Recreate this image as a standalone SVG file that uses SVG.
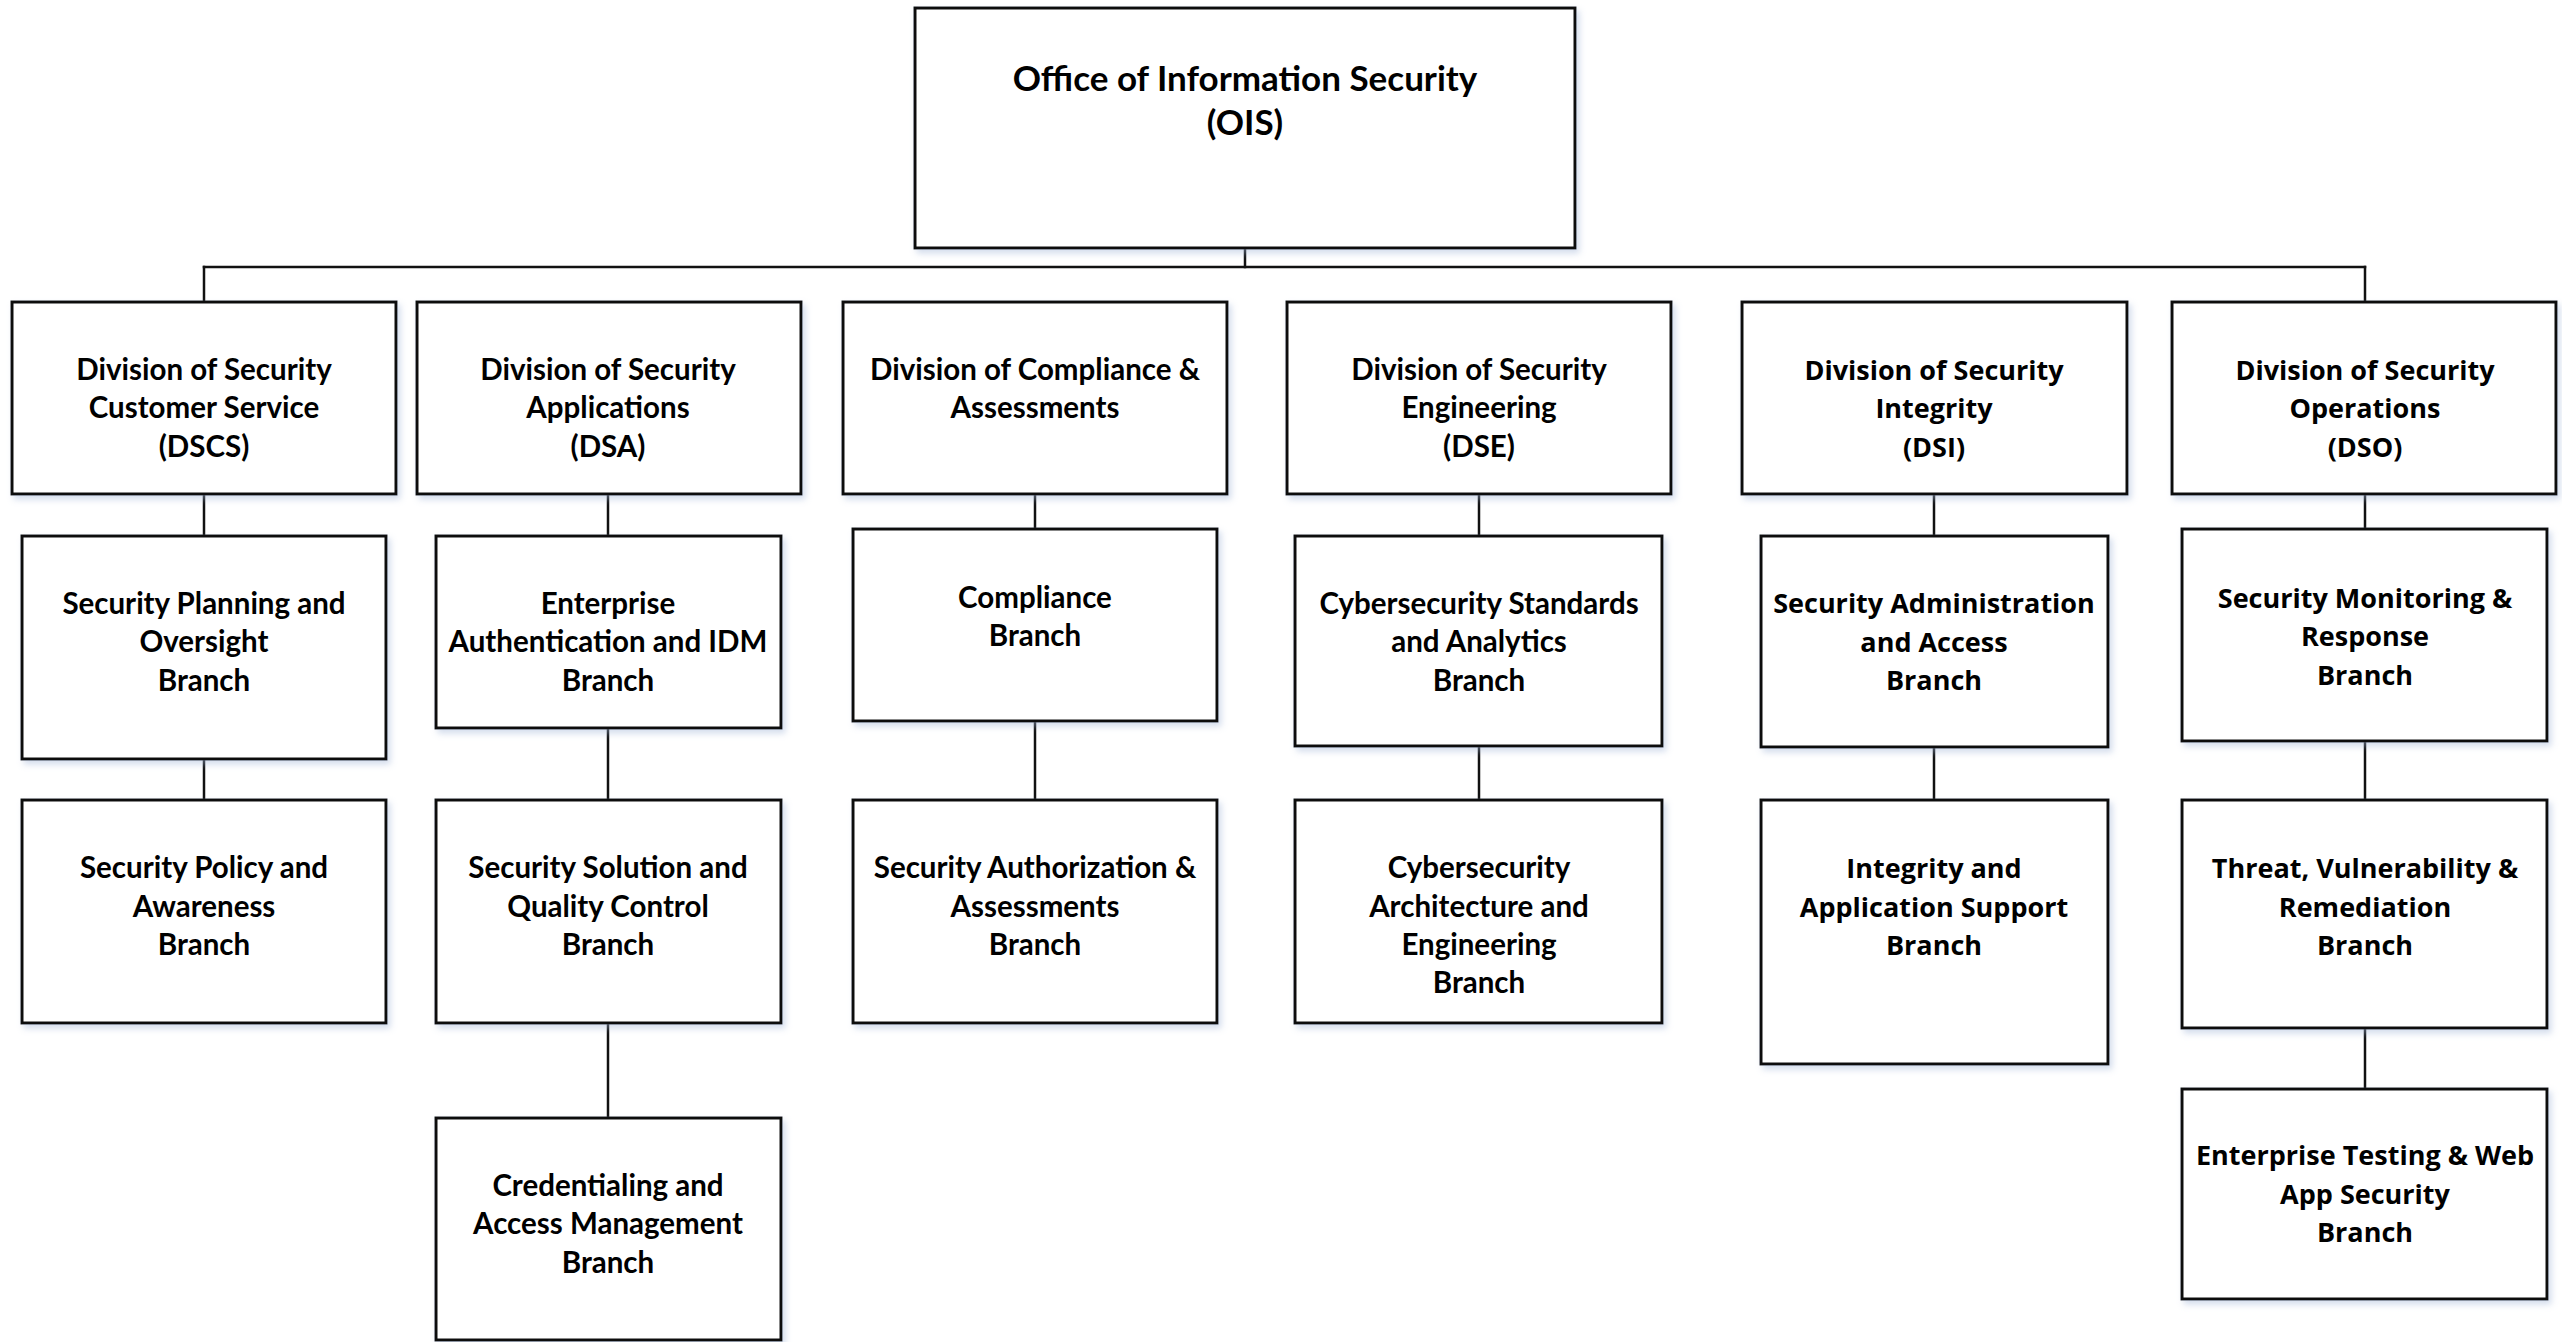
<svg xmlns="http://www.w3.org/2000/svg" width="2562" height="1342" viewBox="0 0 2562 1342">
  <style>
    .box { fill: #ffffff; stroke: #111111; stroke-width: 3; filter: url(#shadow); }
    .conn { stroke: #111111; stroke-width: 2.5; fill: none; stroke-linecap: square; }
    .t { font-family: Lato, "Liberation Sans", Arial, sans-serif; font-weight: bold; font-size: 29.5px; fill: #000000; text-anchor: middle; }
    .t2 { font-family: "Open Sans", "Noto Sans", Arial, sans-serif; font-weight: bold; font-size: 27px; fill: #000000; text-anchor: middle; }
    .big { font-size: 35px; }
  </style>
  <defs>
    <filter id="shadow" x="-5%" y="-5%" width="115%" height="115%">
      <feDropShadow dx="3" dy="4" stdDeviation="3" flood-color="#9fb3d6" flood-opacity="0.45"/>
    </filter>
  </defs>
  <rect width="2562" height="1342" fill="#ffffff"/>

  <g id="connectors">
    <line class="conn" x1="1245" y1="248" x2="1245" y2="267"/>
    <line class="conn" x1="204" y1="267" x2="2365" y2="267"/>
    <line class="conn" x1="204" y1="267" x2="204" y2="302"/>
    <line class="conn" x1="2365" y1="267" x2="2365" y2="302"/>
    <line class="conn" x1="204" y1="494" x2="204" y2="536"/>
    <line class="conn" x1="204" y1="759" x2="204" y2="800"/>
    <line class="conn" x1="608" y1="494" x2="608" y2="536"/>
    <line class="conn" x1="608" y1="728" x2="608" y2="800"/>
    <line class="conn" x1="608" y1="1023" x2="608" y2="1118"/>
    <line class="conn" x1="1035" y1="494" x2="1035" y2="529"/>
    <line class="conn" x1="1035" y1="721" x2="1035" y2="800"/>
    <line class="conn" x1="1479" y1="494" x2="1479" y2="536"/>
    <line class="conn" x1="1479" y1="746" x2="1479" y2="800"/>
    <line class="conn" x1="1934" y1="494" x2="1934" y2="536"/>
    <line class="conn" x1="1934" y1="747" x2="1934" y2="800"/>
    <line class="conn" x1="2365" y1="494" x2="2365" y2="529"/>
    <line class="conn" x1="2365" y1="741" x2="2365" y2="800"/>
    <line class="conn" x1="2365" y1="1028" x2="2365" y2="1089"/>
  </g>

  <g id="ois">
    <rect class="box" x="915" y="8" width="660" height="240"/>
    <text class="t big" x="1245" y="91">Office of Information Security</text>
    <text class="t big" x="1245" y="135">(OIS)</text>
  </g>

  <g id="dscs">
    <rect class="box" x="12" y="302" width="384" height="192"/>
    <text class="t" x="204" y="380">Division of Security</text>
    <text class="t" x="204" y="418">Customer Service</text>
    <text class="t" x="204" y="457">(DSCS)</text>
  </g>
  <g id="dsa">
    <rect class="box" x="417" y="302" width="384" height="192"/>
    <text class="t" x="608" y="380">Division of Security</text>
    <text class="t" x="608" y="418">Applications</text>
    <text class="t" x="608" y="457">(DSA)</text>
  </g>
  <g id="dca">
    <rect class="box" x="843" y="302" width="384" height="192"/>
    <text class="t" x="1035" y="380">Division of Compliance &amp;</text>
    <text class="t" x="1035" y="418">Assessments</text>
  </g>
  <g id="dse">
    <rect class="box" x="1287" y="302" width="384" height="192"/>
    <text class="t" x="1479" y="380">Division of Security</text>
    <text class="t" x="1479" y="418">Engineering</text>
    <text class="t" x="1479" y="457">(DSE)</text>
  </g>
  <g id="dsi">
    <rect class="box" x="1742" y="302" width="385" height="192"/>
    <text class="t2" x="1934" y="380">Division of Security</text>
    <text class="t2" x="1934" y="418">Integrity</text>
    <text class="t2" x="1934" y="457">(DSI)</text>
  </g>
  <g id="dso">
    <rect class="box" x="2172" y="302" width="384" height="192"/>
    <text class="t2" x="2365" y="380">Division of Security</text>
    <text class="t2" x="2365" y="418">Operations</text>
    <text class="t2" x="2365" y="457">(DSO)</text>
  </g>

  <g id="spo">
    <rect class="box" x="22" y="536" width="364" height="223"/>
    <text class="t" x="204" y="614">Security Planning and</text>
    <text class="t" x="204" y="652">Oversight</text>
    <text class="t" x="204" y="691">Branch</text>
  </g>
  <g id="spa">
    <rect class="box" x="22" y="800" width="364" height="223"/>
    <text class="t" x="204" y="878">Security Policy and</text>
    <text class="t" x="204" y="917">Awareness</text>
    <text class="t" x="204" y="955">Branch</text>
  </g>

  <g id="eaidm">
    <rect class="box" x="436" y="536" width="345" height="192"/>
    <text class="t" x="608" y="614">Enterprise</text>
    <text class="t" x="608" y="652">Authentication and IDM</text>
    <text class="t" x="608" y="691">Branch</text>
  </g>
  <g id="ssqc">
    <rect class="box" x="436" y="800" width="345" height="223"/>
    <text class="t" x="608" y="878">Security Solution and</text>
    <text class="t" x="608" y="917">Quality Control</text>
    <text class="t" x="608" y="955">Branch</text>
  </g>
  <g id="cam">
    <rect class="box" x="436" y="1118" width="345" height="222"/>
    <text class="t" x="608" y="1196">Credentialing and</text>
    <text class="t" x="608" y="1234">Access Management</text>
    <text class="t" x="608" y="1273">Branch</text>
  </g>

  <g id="compliance">
    <rect class="box" x="853" y="529" width="364" height="192"/>
    <text class="t" x="1035" y="608">Compliance</text>
    <text class="t" x="1035" y="646">Branch</text>
  </g>
  <g id="saa-auth">
    <rect class="box" x="853" y="800" width="364" height="223"/>
    <text class="t" x="1035" y="878">Security Authorization &amp;</text>
    <text class="t" x="1035" y="917">Assessments</text>
    <text class="t" x="1035" y="955">Branch</text>
  </g>

  <g id="csa">
    <rect class="box" x="1295" y="536" width="367" height="210"/>
    <text class="t" x="1479" y="614">Cybersecurity Standards</text>
    <text class="t" x="1479" y="652">and Analytics</text>
    <text class="t" x="1479" y="691">Branch</text>
  </g>
  <g id="cae">
    <rect class="box" x="1295" y="800" width="367" height="223"/>
    <text class="t" x="1479" y="878">Cybersecurity</text>
    <text class="t" x="1479" y="917">Architecture and</text>
    <text class="t" x="1479" y="955">Engineering</text>
    <text class="t" x="1479" y="993">Branch</text>
  </g>

  <g id="saac">
    <rect class="box" x="1761" y="536" width="347" height="211"/>
    <text class="t2" x="1934" y="613">Security Administration</text>
    <text class="t2" x="1934" y="652">and Access</text>
    <text class="t2" x="1934" y="690">Branch</text>
  </g>
  <g id="ias">
    <rect class="box" x="1761" y="800" width="347" height="264"/>
    <text class="t2" x="1934" y="878">Integrity and</text>
    <text class="t2" x="1934" y="917">Application Support</text>
    <text class="t2" x="1934" y="955">Branch</text>
  </g>

  <g id="smr">
    <rect class="box" x="2182" y="529" width="365" height="212"/>
    <text class="t2" x="2365" y="608">Security Monitoring &amp;</text>
    <text class="t2" x="2365" y="646">Response</text>
    <text class="t2" x="2365" y="685">Branch</text>
  </g>
  <g id="tvr">
    <rect class="box" x="2182" y="800" width="365" height="228"/>
    <text class="t2" x="2365" y="878">Threat, Vulnerability &amp;</text>
    <text class="t2" x="2365" y="917">Remediation</text>
    <text class="t2" x="2365" y="955">Branch</text>
  </g>
  <g id="etw">
    <rect class="box" x="2182" y="1089" width="365" height="210"/>
    <text class="t2" x="2365" y="1165">Enterprise Testing &amp; Web</text>
    <text class="t2" x="2365" y="1204">App Security</text>
    <text class="t2" x="2365" y="1242">Branch</text>
  </g>
</svg>
